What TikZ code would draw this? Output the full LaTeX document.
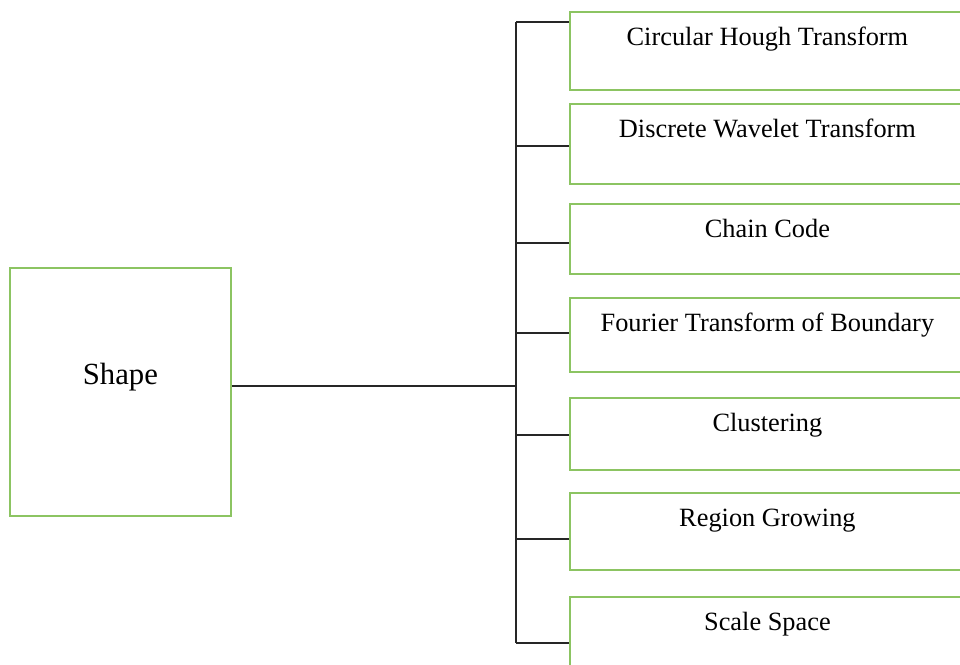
\documentclass[tikz,border=0pt]{standalone}
\usepackage{fontspec}
\setmainfont{Liberation Serif}
\definecolor{boxgreen}{RGB}{140,196,98}
\begin{document}
\begin{tikzpicture}[x=0.02cm, y=-0.02cm]
    \tikzset{featbox/.style={rectangle, draw=boxgreen, line width=1.1pt, anchor=north west, inner sep=0pt}}
    \tikzset{methodbox/.style={featbox, minimum width=7.9cm}}
    \tikzset{tree/.style={draw=black!85, line width=1pt}}
    \tikzset{txt/.style={font=\fontsize{15}{18}\selectfont, anchor=base}}

    \clip (0,0) rectangle (960,664);

    % ── SHAPE ────────────────────────────────────────────
    \node[featbox, minimum width=4.42cm, minimum height=4.96cm,
          label={[txt, font=\fontsize{17.5}{21}\selectfont, yshift=-2.36cm]north:Shape}]
          (shape) at (9,267) {};

    % ── METHODS (top, height, branch y) ──────────────────
    \foreach \top/\ht/\by/\name [count=\i] in {
        11/78/22/Circular Hough Transform,
        103/80/146/Discrete Wavelet Transform,
        203/70/243/Chain Code,
        297/74/333/Fourier Transform of Boundary,
        397/72/435/Clustering,
        492/77/539/Region Growing,
        596/76/643/Scale Space} {
        \node[methodbox, minimum height=\ht*0.02cm,
              label={[txt, yshift=-0.68cm]north:\name}] (m\i) at (569,\top) {};
        \coordinate (b\i) at (516,\by);
        \draw[tree] (b\i) -- (b\i -| m\i.west);
    }

    % ── TRUNK ────────────────────────────────────────────
    \coordinate (hub) at (516,386);
    \draw[tree] (b1) -- (b7);
    \draw[tree] (hub -| shape.east) -- (hub);
\end{tikzpicture}
\end{document}
